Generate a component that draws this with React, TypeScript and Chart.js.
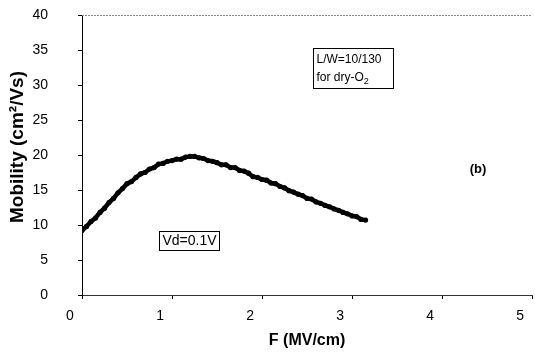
import React, { useEffect, useRef } from "react";
import { Chart, registerables } from "chart.js";

Chart.register(...registerables);

// Electric field F (MV/cm)
const fieldValues: number[] = [
  0.0, 0.05, 0.1, 0.15, 0.2, 0.25, 0.3, 0.35, 0.4, 0.45, 0.5, 0.55, 0.6, 0.65, 0.7, 0.75,
  0.8, 0.85, 0.9, 0.95, 1.0, 1.05, 1.1, 1.15, 1.2, 1.25, 1.3, 1.35, 1.4, 1.45, 1.5, 1.55,
  1.6, 1.65, 1.7, 1.75, 1.8, 1.85, 1.9, 1.95, 2.0, 2.05, 2.1, 2.15, 2.2, 2.25, 2.3, 2.35,
  2.4, 2.45, 2.5, 2.55, 2.6, 2.65, 2.7, 2.75, 2.8, 2.85, 2.9, 2.95, 3.0, 3.05, 3.1, 3.15,
];
// Mobility (cm^2/Vs)
const mobilityValues: number[] = [
  9.2, 9.8, 10.5, 11.0, 11.8, 12.4, 13.2, 13.8, 14.6, 15.2, 15.9, 16.2, 16.8, 17.3, 17.5, 18.0,
  18.2, 18.7, 18.8, 19.1, 19.2, 19.4, 19.4, 19.7, 19.8, 19.8, 19.6, 19.5, 19.2, 19.1, 18.9, 18.6,
  18.6, 18.2, 18.2, 17.8, 17.7, 17.4, 16.9, 16.8, 16.5, 16.4, 16.0, 15.9, 15.5, 15.3, 14.9, 14.7,
  14.4, 14.2, 13.8, 13.7, 13.3, 13.1, 12.8, 12.6, 12.3, 12.1, 11.8, 11.6, 11.3, 11.2, 10.8, 10.7,
];

const xTicks: number[] = [0, 1, 2, 3, 4, 5];
const yTicks: number[] = [0, 5, 10, 15, 20, 25, 30, 35, 40];

const xTitle = "F (MV/cm)";
const yTitle = "Mobility (cm\u00B2/Vs)";

const FONT = "'Liberation Sans', Arial, sans-serif";

const annotationPlugin = {
  id: "annots",
  afterDraw(chart: any) {
    const { ctx, chartArea, scales } = chart;
    const xs = scales.x;
    const ys = scales.y;
    ctx.save();
    // dotted top border
    ctx.strokeStyle = "#8a8a8a";
    ctx.lineWidth = 1;
    ctx.setLineDash([2, 1]);
    ctx.beginPath();
    ctx.moveTo(chartArea.left, chartArea.top + 0.5);
    ctx.lineTo(chartArea.right, chartArea.top + 0.5);
    ctx.stroke();
    ctx.setLineDash([]);

    ctx.fillStyle = "#000";
    ctx.strokeStyle = "#000";
    ctx.textBaseline = "middle";
    ctx.textAlign = "left";

    // y axis title (rotated)
    ctx.save();
    ctx.translate(18, 147);
    ctx.rotate(-Math.PI / 2);
    ctx.textAlign = "center";
    ctx.font = `bold 19px ${FONT}`;
    ctx.fillText(yTitle, 0, 0);
    ctx.restore();

    // L/W box
    const bx = Math.round(xs.getPixelForValue(2.57)) + 0.5;
    const by = Math.round(ys.getPixelForValue(35.3)) + 0.5;
    ctx.lineWidth = 1;
    ctx.strokeRect(bx, by, 80, 40);
    ctx.font = `12px ${FONT}`;
    ctx.fillText("L/W=10/130", bx + 3, by + 11);
    ctx.fillText("for dry-O", bx + 3, by + 29);
    const w1 = ctx.measureText("for dry-O").width;
    ctx.font = `9px ${FONT}`;
    ctx.fillText("2", bx + 3 + w1, by + 33);

    // Vd box
    const vx = Math.round(xs.getPixelForValue(0.86)) + 0.5;
    const vy = Math.round(ys.getPixelForValue(9.1)) + 0.5;
    ctx.strokeRect(vx, vy, 60, 19);
    ctx.font = `14px ${FONT}`;
    ctx.fillText("Vd=0.1V", vx + 3, vy + 10);

    // (b)
    ctx.font = `bold 13px ${FONT}`;
    ctx.textAlign = "center";
    ctx.fillText("(b)", xs.getPixelForValue(4.4), ys.getPixelForValue(17.9));
    ctx.restore();
  },
};

export default function App() {
  const ref = useRef<HTMLCanvasElement | null>(null);
  useEffect(() => {
    if (!ref.current) return;
    const chart = new Chart(ref.current, {
      type: "line",
      data: {
        datasets: [
          {
            data: fieldValues.map((f, i) => ({ x: f, y: mobilityValues[i] })),
            borderColor: "#000",
            backgroundColor: "#000",
            borderWidth: 4.5,
            pointRadius: 2.6,
            pointBorderWidth: 0,
            tension: 0,
          },
        ],
      },
      options: {
        animation: false,
        responsive: false,
        maintainAspectRatio: false,
        layout: { padding: { top: 15, right: 7, left: 0, bottom: 0 } },
        plugins: { legend: { display: false }, tooltip: { enabled: false } },
        scales: {
          x: {
            type: "linear",
            min: 0,
            max: 5,
            afterBuildTicks: (s: any) => {
              s.ticks = xTicks.map((v) => ({ value: v }));
            },
            afterFit: (s: any) => {
              s.height = 59;
            },
            grid: { drawOnChartArea: false, drawTicks: true, tickLength: 4, color: "#000" },
            border: { color: "#333", width: 1 },
            ticks: {
              color: "#000",
              font: { family: FONT, size: 14 },
              padding: 9,
              labelOffset: -12,
              maxRotation: 0,
            },
            title: {
              display: true,
              text: xTitle,
              color: "#000",
              font: { family: FONT, size: 16, weight: "bold" },
              padding: { top: 4 },
            },
          },
          y: {
            type: "linear",
            min: 0,
            max: 40,
            afterBuildTicks: (s: any) => {
              s.ticks = yTicks.map((v) => ({ value: v }));
            },
            afterFit: (s: any) => {
              s.width = 82;
              s.paddingTop = 8;
              s.paddingBottom = 8;
            },
            grid: { drawOnChartArea: false, drawTicks: true, tickLength: 4, color: "#000" },
            border: { color: "#000", width: 1 },
            ticks: {
              color: "#000",
              font: { family: FONT, size: 14 },
              padding: 30,
            },
            title: { display: false },
          },
        },
      },
      plugins: [annotationPlugin],
    });
    return () => chart.destroy();
  }, []);
  return (
    <div style={{ position: "fixed", left: 0, top: 0, width: 545, height: 354, background: "#fff" }}>
      <canvas ref={ref} width={545} height={354} style={{ width: 545, height: 354 }} />
    </div>
  );
}
